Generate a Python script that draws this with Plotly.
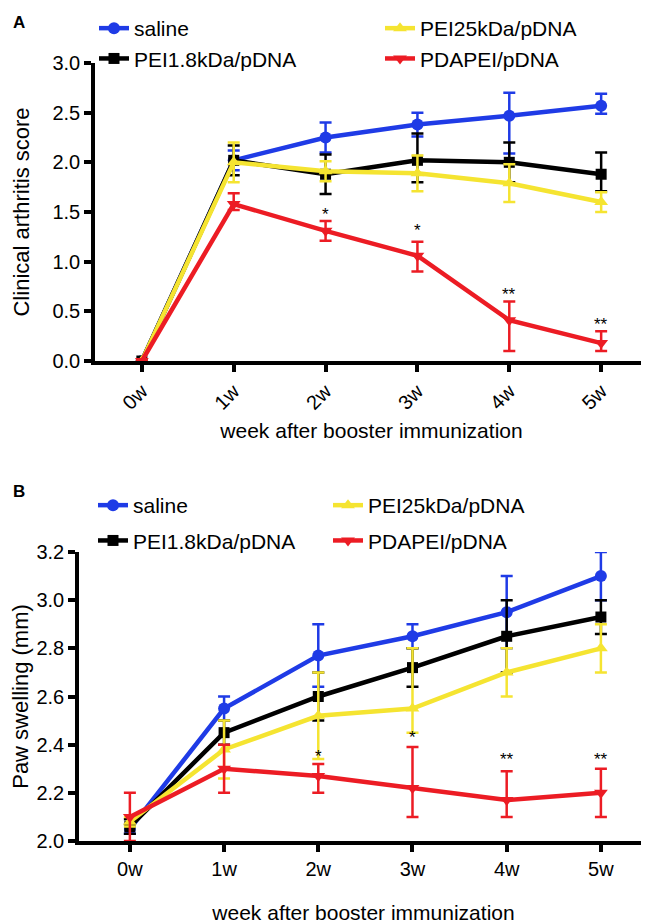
import plotly.graph_objects as go

W, H = 649, 923
weeks = ["0w", "1w", "2w", "3w", "4w", "5w"]
names = ["saline", "PEI1.8kDa/pDNA", "PEI25kDa/pDNA", "PDAPEI/pDNA"]
colors = ["#1f3be6", "#000000", "#f5e431", "#ec1c24"]
symbols = ["circle", "square", "triangle-up", "triangle-down"]
msizes = [12, 11, 12, 12]

# Panel A: clinical arthritis score
score_saline = [0, 2.02, 2.25, 2.38, 2.47, 2.57]
score_pei18 = [0, 2.02, 1.88, 2.02, 2.00, 1.88]
score_pei25 = [0, 2.00, 1.91, 1.89, 1.79, 1.60]
score_pdapei = [0, 1.58, 1.31, 1.06, 0.41, 0.18]
score_err_plus = [
    [0, 0.10, 0.15, 0.12, 0.23, 0.12],
    [0, 0.15, 0.20, 0.27, 0.20, 0.22],
    [0, 0.20, 0.10, 0.18, 0.19, 0.10],
    [0, 0.11, 0.10, 0.14, 0.19, 0.12],
]
score_err_minus = [
    [0, 0.10, 0.15, 0.12, 0.38, 0.08],
    [0, 0.15, 0.20, 0.22, 0.20, 0.17],
    [0, 0.20, 0.10, 0.18, 0.19, 0.10],
    [0, 0.06, 0.10, 0.16, 0.31, 0.08],
]
score_star_weeks = ["2w", "3w", "4w", "5w"]
score_star_y = [1.47, 1.31, 0.67, 0.37]
score_star_text = ["*", "*", "**", "**"]

# Panel B: paw swelling (mm)
paw_saline = [2.05, 2.55, 2.77, 2.85, 2.95, 3.10]
paw_pei18 = [2.06, 2.45, 2.60, 2.72, 2.85, 2.93]
paw_pei25 = [2.08, 2.38, 2.52, 2.55, 2.70, 2.80]
paw_pdapei = [2.10, 2.30, 2.27, 2.22, 2.17, 2.20]
paw_err_plus = [
    [0.02, 0.05, 0.13, 0.05, 0.15, 0.10],
    [0.03, 0.05, 0.10, 0.08, 0.15, 0.07],
    [0.02, 0.12, 0.18, 0.25, 0.10, 0.10],
    [0.10, 0.10, 0.05, 0.17, 0.12, 0.10],
]
paw_err_minus = [
    [0.02, 0.05, 0.13, 0.05, 0.15, 0.10],
    [0.03, 0.05, 0.10, 0.08, 0.15, 0.07],
    [0.02, 0.12, 0.18, 0.10, 0.10, 0.10],
    [0.10, 0.10, 0.07, 0.12, 0.07, 0.10],
]
paw_star_weeks = ["2w", "3w", "4w", "5w"]
paw_star_y = [2.35, 2.43, 2.34, 2.34]
paw_star_text = ["*", "*", "**", "**"]

FONT = "Liberation Sans, Arial, Helvetica, sans-serif"

fig = go.Figure()

# legend columns: saline / PEI1.8 in col1, PEI25 / PDAPEI in col2
top_legends = ["legend", "legend", "legend2", "legend2"]
bot_legends = ["legend3", "legend3", "legend4", "legend4"]
ranks = [1, 2, 1, 2]


def add_panel(series, eplus, eminus, xa, ya, legends, tag):
    for i, (nm, vals) in enumerate(zip(names, series)):
        fig.add_trace(go.Scatter(
            x=weeks, y=vals, name=nm, mode="lines+markers",
            xaxis=xa, yaxis=ya, legend=legends[i], legendrank=ranks[i],
            legendgroup=tag + str(i),
            line=dict(color=colors[i], width=4.5),
            marker=dict(symbol=symbols[i], size=msizes[i], color=colors[i]),
            error_y=dict(type="data", array=eplus[i], arrayminus=eminus[i],
                         symmetric=False, color=colors[i], thickness=2.5, width=6),
        ))


add_panel([score_saline, score_pei18, score_pei25, score_pdapei],
          score_err_plus, score_err_minus, "x", "y", top_legends, "a")
add_panel([paw_saline, paw_pei18, paw_pei25, paw_pdapei],
          paw_err_plus, paw_err_minus, "x2", "y2", bot_legends, "b")


def px_x(p):
    return p / W


def px_y(p):
    return 1 - p / H


axis_common = dict(showline=True, linecolor="black", linewidth=3.5, ticks="outside",
                   tickwidth=3.5, ticklen=7, tickcolor="black", showgrid=False,
                   zeroline=False, tickfont=dict(family=FONT, size=20, color="black"))

leg_common = dict(orientation="v", xanchor="left", yanchor="top",
                  bgcolor="rgba(0,0,0,0)", traceorder="grouped",
                  font=dict(family=FONT, size=21, color="black"))

fig.update_layout(
    width=W, height=H, margin=dict(l=0, r=0, t=0, b=0, autoexpand=False),
    paper_bgcolor="white", plot_bgcolor="white",
    font=dict(family=FONT, color="black"),
    xaxis=dict(domain=[px_x(87), px_x(640)], anchor="y", range=[-0.51, 5.51],
               tickangle=-45, tickvals=weeks, ticktext=weeks,
               title=dict(text="week after booster immunization",
                          font=dict(family=FONT, size=21), standoff=12),
               **axis_common),
    yaxis=dict(domain=[px_y(353), px_y(55)], anchor="x", range=[0, 3.0],
               tickvals=[0, 0.5, 1.0, 1.5, 2.0, 2.5, 3.0], tickformat=".1f",
               title=dict(text="Clinical arthritis score",
                          font=dict(family=FONT, size=22), standoff=18),
               **axis_common),
    xaxis2=dict(domain=[px_x(71), px_x(640)], anchor="y2", range=[-0.54, 5.5],
                tickvals=weeks, ticktext=weeks,
                title=dict(text="week after booster immunization",
                           font=dict(family=FONT, size=21), standoff=28),
                **axis_common),
    yaxis2=dict(domain=[px_y(833), px_y(544)], anchor="x2", range=[2.0, 3.2],
                tickvals=[2.0, 2.2, 2.4, 2.6, 2.8, 3.0, 3.2], tickformat=".1f",
                title=dict(text="Paw swelling (mm)",
                           font=dict(family=FONT, size=22), standoff=12),
                **axis_common),
    legend=dict(x=px_x(86), y=px_y(0), tracegroupgap=0, **leg_common),
    legend2=dict(x=px_x(372), y=px_y(0), tracegroupgap=0, **leg_common),
    legend3=dict(x=px_x(85), y=px_y(477), tracegroupgap=5, **leg_common),
    legend4=dict(x=px_x(320), y=px_y(477), tracegroupgap=5, **leg_common),
)

for wk, yv, tx in zip(score_star_weeks, score_star_y, score_star_text):
    fig.add_annotation(x=wk, y=yv, xref="x", yref="y", text=tx, showarrow=False,
                       font=dict(family=FONT, size=17, color="black"))
for wk, yv, tx in zip(paw_star_weeks, paw_star_y, paw_star_text):
    fig.add_annotation(x=wk, y=yv, xref="x2", yref="y2", text=tx, showarrow=False,
                       font=dict(family=FONT, size=17, color="black"))

fig.add_annotation(x=px_x(3), y=px_y(3), xref="paper", yref="paper", text="<b>A</b>",
                   showarrow=False, xanchor="left", yanchor="top",
                   font=dict(family=FONT, size=17, color="black"))
fig.add_annotation(x=px_x(3), y=px_y(472), xref="paper", yref="paper", text="<b>B</b>",
                   showarrow=False, xanchor="left", yanchor="top",
                   font=dict(family=FONT, size=17, color="black"))

fig.write_html("out.html")
